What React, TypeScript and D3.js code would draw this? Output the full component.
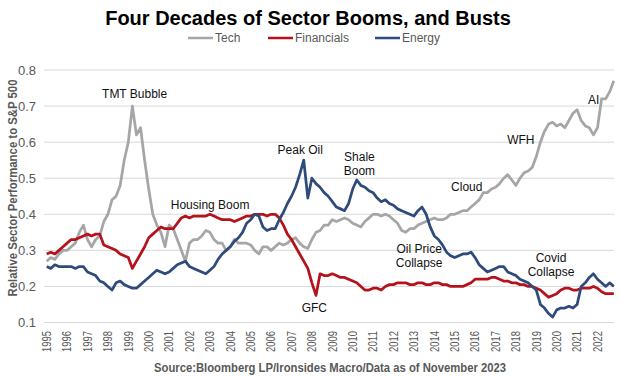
import React from "react";
import * as d3 from "d3";

// ---- data (one value every 0.2 year, axis years) ----
const startYear = 1995;
const stepYears = 0.2;

const yearLabels = [
  "1995", "1996", "1997", "1998", "1999", "2000", "2001", "2002", "2003", "2004",
  "2005", "2006", "2007", "2008", "2009", "2010", "2011", "2012", "2013", "2014",
  "2015", "2016", "2017", "2018", "2019", "2020", "2021", "2022",
];
const yTickValues = [0.1, 0.2, 0.3, 0.4, 0.5, 0.6, 0.7, 0.8];

const techValues = [
  0.27, 0.28, 0.275, 0.29, 0.30,
  0.30, 0.31, 0.32, 0.35, 0.37,
  0.33, 0.31, 0.33, 0.34, 0.38,
  0.40, 0.44, 0.45, 0.48, 0.55,
  0.60, 0.70, 0.62, 0.64, 0.55,
  0.47, 0.40, 0.37, 0.35, 0.31,
  0.37, 0.36, 0.33, 0.30, 0.27,
  0.32, 0.33, 0.33, 0.34, 0.355,
  0.35, 0.33, 0.32, 0.32, 0.30,
  0.31, 0.33, 0.32, 0.32, 0.32,
  0.315, 0.30, 0.29, 0.31, 0.31,
  0.30, 0.31, 0.32, 0.315, 0.32,
  0.33, 0.335, 0.32, 0.31, 0.305,
  0.33, 0.35, 0.355, 0.37, 0.37,
  0.385, 0.38, 0.385, 0.39, 0.385,
  0.375, 0.37, 0.365, 0.38, 0.39,
  0.40, 0.40, 0.395, 0.40, 0.395,
  0.385, 0.375, 0.355, 0.35, 0.36,
  0.36, 0.37, 0.375, 0.38, 0.385,
  0.39, 0.385, 0.385, 0.39, 0.40,
  0.40, 0.405, 0.41, 0.41, 0.42,
  0.43, 0.44, 0.46, 0.46, 0.47,
  0.475, 0.485, 0.50, 0.51, 0.495,
  0.48, 0.50, 0.515, 0.52, 0.53,
  0.56, 0.60, 0.63, 0.65, 0.655,
  0.645, 0.65, 0.64, 0.66, 0.68,
  0.69, 0.66, 0.645, 0.64, 0.62,
  0.64, 0.72, 0.72, 0.74, 0.77,
];

const financialsValues = [
  0.29, 0.295, 0.29, 0.30, 0.31,
  0.32, 0.33, 0.33, 0.335, 0.34,
  0.345, 0.34, 0.345, 0.345, 0.315,
  0.31, 0.305, 0.30, 0.29, 0.285,
  0.28, 0.25, 0.27, 0.29, 0.31,
  0.335, 0.345, 0.355, 0.365, 0.36,
  0.36, 0.36, 0.375, 0.39, 0.395,
  0.39, 0.395, 0.395, 0.395, 0.395,
  0.40, 0.395, 0.39, 0.385, 0.385,
  0.385, 0.38, 0.385, 0.39, 0.395,
  0.395, 0.40, 0.40, 0.40, 0.395,
  0.40, 0.40, 0.39, 0.37, 0.345,
  0.33, 0.31, 0.29, 0.27, 0.25,
  0.21, 0.175, 0.235, 0.23, 0.23,
  0.235, 0.23, 0.225, 0.225, 0.22,
  0.215, 0.21, 0.20, 0.19, 0.19,
  0.195, 0.195, 0.19, 0.20, 0.205,
  0.205, 0.21, 0.21, 0.21, 0.205,
  0.205, 0.21, 0.21, 0.205, 0.205,
  0.21, 0.21, 0.205, 0.205, 0.20,
  0.20, 0.20, 0.20, 0.205, 0.21,
  0.22, 0.22, 0.22, 0.22, 0.225,
  0.225, 0.22, 0.215, 0.215, 0.21,
  0.21, 0.205, 0.205, 0.20, 0.20,
  0.195, 0.19, 0.18, 0.17, 0.175,
  0.18, 0.19, 0.195, 0.195, 0.19,
  0.19, 0.195, 0.195, 0.195, 0.20,
  0.195, 0.185, 0.18, 0.18, 0.18,
];

const energyValues = [
  0.255, 0.25, 0.26, 0.255, 0.255,
  0.255, 0.255, 0.25, 0.255, 0.255,
  0.24, 0.235, 0.23, 0.215, 0.21,
  0.20, 0.19, 0.21, 0.215, 0.205,
  0.20, 0.195, 0.195, 0.205, 0.215,
  0.225, 0.235, 0.245, 0.24, 0.235,
  0.24, 0.25, 0.26, 0.265, 0.27,
  0.255, 0.25, 0.245, 0.24, 0.235,
  0.245, 0.255, 0.275, 0.29, 0.30,
  0.31, 0.325, 0.335, 0.35, 0.375,
  0.385, 0.40, 0.395, 0.365, 0.355,
  0.36, 0.36, 0.385, 0.405, 0.43,
  0.45, 0.475, 0.51, 0.55, 0.445,
  0.50, 0.485, 0.475, 0.46, 0.45,
  0.435, 0.42, 0.415, 0.41, 0.43,
  0.47, 0.495, 0.48, 0.475, 0.465,
  0.46, 0.445, 0.435, 0.44, 0.43,
  0.425, 0.415, 0.41, 0.405, 0.40,
  0.395, 0.41, 0.42, 0.40, 0.365,
  0.34, 0.33, 0.315, 0.295, 0.285,
  0.28, 0.285, 0.29, 0.29, 0.295,
  0.28, 0.26, 0.25, 0.24, 0.245,
  0.25, 0.255, 0.255, 0.24, 0.235,
  0.23, 0.22, 0.215, 0.21, 0.20,
  0.19, 0.15, 0.14, 0.125, 0.115,
  0.135, 0.14, 0.14, 0.145, 0.14,
  0.15, 0.20, 0.21, 0.225, 0.235,
  0.22, 0.21, 0.20, 0.21, 0.20,
];

const seriesNames = ["Tech", "Financials", "Energy"];
const seriesData = [techValues, financialsValues, energyValues];
const seriesColors = ["#A6A6A6", "#B5121B", "#2F4B7C"];

// annotations: text lines anchored at (axis year, value)
const annotationTexts = [
  ["TMT Bubble"],
  ["Housing Boom"],
  ["Peak Oil"],
  ["Shale", "Boom"],
  ["Cloud"],
  ["Oil Price", "Collapse"],
  ["WFH"],
  ["AI"],
  ["GFC"],
  ["Covid", "Collapse"],
];
const annotationYears = [1999.31, 2003.01, 2007.43, 2010.33, 2015.59, 2013.26, 2018.24, 2021.81, 2008.12, 2019.72];
const annotationValues = [0.733, 0.426, 0.580, 0.560, 0.477, 0.304, 0.606, 0.717, 0.140, 0.280];

const titleText = "Four Decades of Sector Booms, and Busts";
const yAxisTitle = "Relative Sector Performance to S&P 500";
const sourceText = "Source:Bloomberg LP/Ironsides Macro/Data as of November 2023";

// ---- layout ----
const W = 620;
const H = 377;
const FONT = "'Liberation Sans', Arial, Helvetica, sans-serif";
const TEXT_GRAY = "#595959";

export default function App() {
  const x = d3.scaleLinear().domain([1995, 2022]).range([46.7, 597.5]);
  const y = d3.scaleLinear().domain([0.1, 0.8]).range([322.5, 70]);

  const line = d3
    .line<number>()
    .x((_, i) => x(startYear + i * stepYears))
    .y((v) => y(v))
    .curve(d3.curveLinear);

  const legendX = [188, 268, 375];
  const legendY = 38;

  return (
    <svg
      width={W}
      height={H}
      viewBox={`0 0 ${W} ${H}`}
      style={{ position: "absolute", left: 0, top: 0, background: "#fff" }}
      fontFamily={FONT}
    >
      <rect x={0} y={0} width={W} height={H} fill="#fff" />
      {/* title */}
      <text x={308} y={25} textAnchor="middle" fontSize={20} fontWeight="bold" fill="#000">
        {titleText}
      </text>

      {/* legend */}
      {seriesNames.map((name, i) => (
        <g key={name}>
          <line
            x1={legendX[i]}
            x2={legendX[i] + 25}
            y1={legendY}
            y2={legendY}
            stroke={seriesColors[i]}
            strokeWidth={2.5}
          />
          <text x={legendX[i] + 27} y={legendY} dy="0.35em" fontSize={12} fill={TEXT_GRAY}>
            {name}
          </text>
        </g>
      ))}

      {/* gridlines */}
      {yTickValues.map((v) => (
        <line key={v} x1={44} x2={614} y1={y(v)} y2={y(v)} stroke="#D9D9D9" strokeWidth={1} />
      ))}

      {/* y tick labels */}
      {yTickValues.map((v) => (
        <text
          key={v}
          x={36}
          y={y(v)}
          dy="0.35em"
          textAnchor="end"
          fontSize={13}
          fill={TEXT_GRAY}
        >
          {v.toFixed(1)}
        </text>
      ))}

      {/* y axis title */}
      <text
        transform={`translate(13,188) rotate(-90)`}
        textAnchor="middle"
        dy="0.35em"
        fontSize={12}
        fontWeight="bold"
        fill={TEXT_GRAY}
        textLength={217}
        lengthAdjust="spacingAndGlyphs"
      >
        {yAxisTitle}
      </text>

      {/* x tick labels */}
      {yearLabels.map((lab) => (
        <text
          key={lab}
          transform={`translate(${x(+lab)},${331}) rotate(-90)`}
          textAnchor="end"
          dy="0.35em"
          fontSize={12}
          fill={TEXT_GRAY}
          textLength={21}
          lengthAdjust="spacingAndGlyphs"
        >
          {lab}
        </text>
      ))}

      {/* series */}
      {seriesData.map((vals, i) => (
        <path
          key={seriesNames[i]}
          d={line(vals) || ""}
          fill="none"
          stroke={seriesColors[i]}
          strokeWidth={2.75}
          strokeLinejoin="round"
        />
      ))}

      {/* annotations */}
      {annotationTexts.map((lines, i) => (
        <text
          key={i}
          x={x(annotationYears[i])}
          y={y(annotationValues[i])}
          textAnchor="middle"
          fontSize={12}
          fill="#111"
        >
          {lines.map((l, j) => (
            <tspan key={j} x={x(annotationYears[i])} dy={j === 0 ? "0.35em" : "1.15em"}>
              {l}
            </tspan>
          ))}
        </text>
      ))}

      {/* source */}
      <text x={330} y={367.5} dy="0.35em" textAnchor="middle" fontSize={12} fontWeight="bold" fill={TEXT_GRAY} textLength={352} lengthAdjust="spacingAndGlyphs">
        {sourceText}
      </text>
    </svg>
  );
}
